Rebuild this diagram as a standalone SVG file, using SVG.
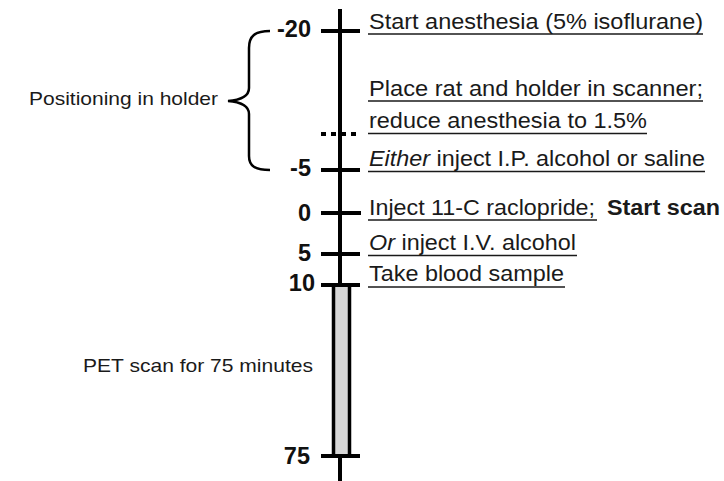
<svg xmlns="http://www.w3.org/2000/svg" width="724" height="481" viewBox="0 0 724 481">
<style>
.lbl{font-family:"Liberation Sans",Arial,sans-serif;font-size:21.5px;fill:#1a1a1a}
.num{font-family:"Liberation Sans",Arial,sans-serif;font-size:23.5px;font-weight:bold;fill:#111;text-anchor:end}
.side{font-family:"Liberation Sans",Arial,sans-serif;font-size:18.5px;fill:#1a1a1a}
.ul{stroke:#1a1a1a;stroke-width:1.6}
.tick{stroke:#000;stroke-width:4}
</style>
<rect width="724" height="481" fill="#fff"/>
<g id="axis">
<line x1="340" y1="9" x2="340" y2="481" stroke="#000" stroke-width="4"/>
<rect x="333.5" y="285" width="16" height="171" fill="#d6d6d6" stroke="#000" stroke-width="3.5"/>
<line class="tick" x1="321" y1="31" x2="360" y2="31"/>
<line class="tick" x1="321" y1="170" x2="360" y2="170"/>
<line class="tick" x1="321" y1="213" x2="361" y2="213" stroke-width="7"/>
<line class="tick" x1="321" y1="254" x2="360" y2="254"/>
<line class="tick" x1="321" y1="285" x2="360" y2="285"/>
<line class="tick" x1="321" y1="456" x2="360" y2="456"/>
<line x1="321" y1="134" x2="358" y2="134" stroke="#000" stroke-width="4" stroke-dasharray="5 5"/>
</g>
<g id="numbers">
<text class="num" x="311" y="37">-20</text>
<text class="num" x="311" y="176">-5</text>
<text class="num" x="311" y="221">0</text>
<text class="num" x="311" y="261">5</text>
<text class="num" x="315" y="291">10</text>
<text class="num" x="310" y="464">75</text>
</g>
<g id="brace">
<path d="M270,31 C255,31 249,36 249,48 L249,88 C249,96 240,100 228,101 C240,102 249,106 249,114 L249,156 C249,166 255,170 270,170" fill="none" stroke="#000" stroke-width="2.5"/>
<text class="side" x="29" y="105" textLength="189" lengthAdjust="spacingAndGlyphs">Positioning in holder</text>
</g>
<g id="pet">
<text class="side" x="83" y="372" textLength="230" lengthAdjust="spacingAndGlyphs">PET scan for 75 minutes</text>
</g>
<g id="events">
<text class="lbl" x="369" y="29" textLength="334" lengthAdjust="spacingAndGlyphs">Start anesthesia (5% isoflurane)</text>
<line class="ul" x1="368" y1="34" x2="703" y2="34"/>
<text class="lbl" x="369" y="96" textLength="334" lengthAdjust="spacingAndGlyphs">Place rat and holder in scanner;</text>
<line class="ul" x1="368" y1="101" x2="703" y2="101"/>
<text class="lbl" x="369" y="128" textLength="278" lengthAdjust="spacingAndGlyphs">reduce anesthesia to 1.5%</text>
<line class="ul" x1="368" y1="133.5" x2="647" y2="133.5"/>
<text class="lbl" x="369" y="166" textLength="336" lengthAdjust="spacingAndGlyphs"><tspan font-style="italic">Either</tspan> inject I.P. alcohol or saline</text>
<line class="ul" x1="368" y1="171.5" x2="705" y2="171.5"/>
<text class="lbl" x="369" y="215" textLength="226" lengthAdjust="spacingAndGlyphs">Inject 11-C raclopride;</text>
<line class="ul" x1="368" y1="220" x2="597" y2="220"/>
<text class="lbl" x="607" y="215" textLength="113" lengthAdjust="spacingAndGlyphs" font-weight="bold" fill="#000">Start scan</text>
<text class="lbl" x="369" y="250" textLength="207" lengthAdjust="spacingAndGlyphs"><tspan font-style="italic">Or</tspan> inject I.V. alcohol</text>
<line class="ul" x1="368" y1="255.5" x2="577" y2="255.5"/>
<text class="lbl" x="369" y="281" textLength="195" lengthAdjust="spacingAndGlyphs">Take blood sample</text>
<line class="ul" x1="368" y1="287" x2="565" y2="287"/>
</g>
</svg>
